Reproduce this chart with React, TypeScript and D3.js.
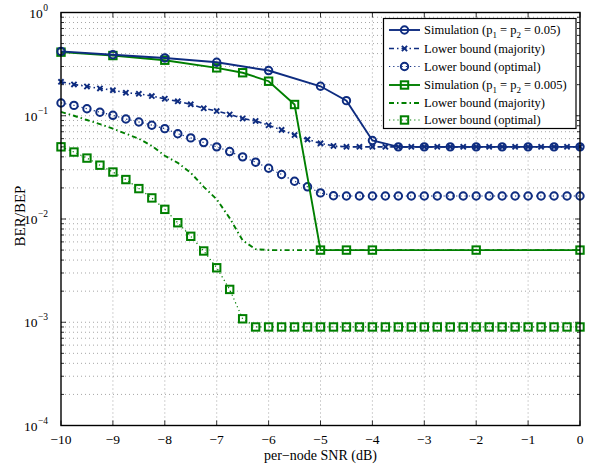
import React from "react";
import * as d3 from "d3";

// per-node SNR grids (dB)
const snrFine = [
  -10, -9.75, -9.5, -9.25, -9, -8.75, -8.5, -8.25, -8, -7.75, -7.5, -7.25, -7, -6.75, -6.5, -6.25,
  -6, -5.75, -5.5, -5.25, -5, -4.75, -4.5, -4.25, -4, -3.75, -3.5, -3.25, -3, -2.75, -2.5, -2.25,
  -2, -1.75, -1.5, -1.25, -1, -0.75, -0.5, -0.25, 0,
];
const snrSimA = [-10, -9, -8, -7, -6, -5, -4.5, -4, -3.5, -3, -2.5, -2, -1.5, -1, -0.5, 0];
const snrSimB = [-10, -9, -8, -7, -6.5, -6, -5.5, -5, -4.5, -4, -2, 0];

// p1 = p2 = 0.05
const simA = [0.42, 0.39, 0.363, 0.33, 0.274, 0.193, 0.14, 0.0576, 0.05, 0.05, 0.05, 0.05, 0.05, 0.05, 0.05, 0.05];
const majA = [
  0.213, 0.201, 0.192, 0.184, 0.177, 0.167, 0.163, 0.155, 0.146, 0.138, 0.129, 0.118, 0.111, 0.103, 0.094, 0.089,
  0.081, 0.073, 0.065, 0.059, 0.054, 0.051, 0.05, 0.05, 0.05, 0.05, 0.05, 0.05, 0.05, 0.05, 0.05, 0.05,
  0.05, 0.05, 0.05, 0.05, 0.05, 0.05, 0.05, 0.05, 0.05,
];
const optA = [
  0.133, 0.126, 0.117, 0.108, 0.101, 0.093, 0.087, 0.081, 0.075, 0.067, 0.061, 0.055, 0.05, 0.045, 0.04, 0.0355,
  0.031, 0.027, 0.0232, 0.0205, 0.0179, 0.0168, 0.0167, 0.0167, 0.0167, 0.0167, 0.0167, 0.0167, 0.0167, 0.0167, 0.0167, 0.0167,
  0.0167, 0.0167, 0.0167, 0.0167, 0.0167, 0.0167, 0.0167, 0.0167, 0.0167,
];

// p1 = p2 = 0.005
const simB = [0.413, 0.383, 0.345, 0.291, 0.261, 0.216, 0.1285, 0.005, 0.005, 0.005, 0.005, 0.005];
const majB = [
  0.109, 0.1, 0.091, 0.083, 0.075, 0.067, 0.06, 0.051, 0.041, 0.035, 0.028, 0.0205, 0.0155, 0.0102, 0.0062, 0.0051,
  0.005, 0.005, 0.005, 0.005, 0.005, 0.005, 0.005, 0.005, 0.005, 0.005, 0.005, 0.005, 0.005, 0.005, 0.005, 0.005,
  0.005, 0.005, 0.005, 0.005, 0.005, 0.005, 0.005, 0.005, 0.005,
];
const optB = [
  0.05, 0.0445, 0.0389, 0.0332, 0.0285, 0.0241, 0.0197, 0.016, 0.0124, 0.0092, 0.0068, 0.0049, 0.00337, 0.00208, 0.00108, 0.0009,
  0.0009, 0.0009, 0.0009, 0.0009, 0.0009, 0.0009, 0.0009, 0.0009, 0.0009, 0.0009, 0.0009, 0.0009, 0.0009, 0.0009, 0.0009, 0.0009,
  0.0009, 0.0009, 0.0009, 0.0009, 0.0009, 0.0009, 0.0009, 0.0009, 0.0009,
];

const xTicks = [-10, -9, -8, -7, -6, -5, -4, -3, -2, -1, 0];
const yExponents = [0, -1, -2, -3, -4];

const NAVY = "#0e2c80";
const GREEN = "#007f00";
const FONT = "'Liberation Serif', 'Times New Roman', serif";

const W = 593;
const H = 464;
const L = 61, R = 580, T = 12.5, B = 425.5;

const x = d3.scaleLinear().domain([-10, 0]).range([L, R]);
const y = d3.scaleLog().domain([1e-4, 1]).range([B, T]);

const line = d3
  .line<[number, number]>()
  .x((d) => x(d[0]))
  .y((d) => y(d[1]));

const pts = (xs: number[], ys: number[]) => xs.map((v, i) => [v, ys[i]] as [number, number]);

type Mk = "circle" | "x" | "square" | "none";

const Marker = ({ kind, cx, cy, color }: { kind: Mk; cx: number; cy: number; color: string }) => {
  if (kind === "circle") return <circle cx={cx} cy={cy} r={3.7} fill="none" stroke={color} strokeWidth={2} />;
  if (kind === "square")
    return <rect x={cx - 3.7} y={cy - 3.7} width={7.4} height={7.4} fill="none" stroke={color} strokeWidth={2} />;
  if (kind === "x")
    return (
      <path
        d={`M${cx - 2.6},${cy - 2.6}L${cx + 2.6},${cy + 2.6}M${cx - 2.6},${cy + 2.6}L${cx + 2.6},${cy - 2.6}`}
        stroke={color}
        strokeWidth={1.9}
      />
    );
  return null;
};

const series = [
  { data: pts(snrFine, majA), color: NAVY, dash: "5,3,1.5,3", width: 1.6, marker: "x" as Mk },
  { data: pts(snrFine, optA), color: NAVY, dash: "1.2,3", width: 1.2, marker: "circle" as Mk },
  { data: pts(snrFine, majB), color: GREEN, dash: "5,3,1.5,3", width: 1.9, marker: "none" as Mk },
  { data: pts(snrFine, optB), color: GREEN, dash: "1.2,3", width: 1.2, marker: "square" as Mk },
  { data: pts(snrSimB, simB), color: GREEN, dash: "", width: 1.9, marker: "square" as Mk },
  { data: pts(snrSimA, simA), color: NAVY, dash: "", width: 1.9, marker: "circle" as Mk },
];

const legendRows = [
  { color: NAVY, dash: "", width: 1.9, marker: "circle" as Mk, sim: "0.05" },
  { color: NAVY, dash: "5,3,1.5,3", width: 1.6, marker: "x" as Mk, text: "Lower bound (majority)" },
  { color: NAVY, dash: "1.2,3", width: 1.2, marker: "circle" as Mk, text: "Lower bound (optimal)" },
  { color: GREEN, dash: "", width: 1.9, marker: "square" as Mk, sim: "0.005" },
  { color: GREEN, dash: "5,3,1.5,3", width: 1.9, marker: "none" as Mk, text: "Lower bound (majority)" },
  { color: GREEN, dash: "1.2,3", width: 1.2, marker: "square" as Mk, text: "Lower bound (optimal)" },
];
const legendY = [30, 48.5, 66.5, 85, 103, 120];

export default function App() {
  const minorY: number[] = [];
  for (let e = -4; e < 0; e++) for (let k = 2; k <= 9; k++) minorY.push(k * Math.pow(10, e));

  return (
    <svg width={W} height={H} style={{ position: "absolute", left: 0, top: 0, background: "#fff" }} fontFamily={FONT}>
      <rect x={0} y={0} width={W} height={H} fill="#fff" />
      {/* grid */}
      <g stroke="#808080" strokeWidth={0.7} strokeDasharray="1,3">
        {xTicks.slice(1, -1).map((t) => (
          <line key={"gx" + t} x1={x(t)} x2={x(t)} y1={T} y2={B} />
        ))}
        {yExponents.slice(1, -1).map((e) => (
          <line key={"gy" + e} x1={L} x2={R} y1={y(Math.pow(10, e))} y2={y(Math.pow(10, e))} />
        ))}
        {minorY.map((v) => (
          <line key={"gm" + v} x1={L} x2={R} y1={y(v)} y2={y(v)} />
        ))}
      </g>
      {/* ticks */}
      <g stroke="#000" strokeWidth={0.8}>
        {xTicks.map((t) => (
          <g key={"tx" + t}>
            <line x1={x(t)} x2={x(t)} y1={B} y2={B - 5} />
            <line x1={x(t)} x2={x(t)} y1={T} y2={T + 5} />
          </g>
        ))}
        {yExponents.map((e) => (
          <g key={"ty" + e}>
            <line x1={L} x2={L + 5} y1={y(Math.pow(10, e))} y2={y(Math.pow(10, e))} />
            <line x1={R} x2={R - 5} y1={y(Math.pow(10, e))} y2={y(Math.pow(10, e))} />
          </g>
        ))}
        {minorY.map((v) => (
          <g key={"tm" + v}>
            <line x1={L} x2={L + 3} y1={y(v)} y2={y(v)} />
            <line x1={R} x2={R - 3} y1={y(v)} y2={y(v)} />
          </g>
        ))}
      </g>
      {/* curves */}
      {series.map((s, i) => (
        <g key={"s" + i}>
          <path d={line(s.data) || ""} fill="none" stroke={s.color} strokeWidth={s.width} strokeDasharray={s.dash || undefined} />
          {s.data.map((d, j) => (
            <Marker key={j} kind={s.marker} cx={x(d[0])} cy={y(d[1])} color={s.color} />
          ))}
        </g>
      ))}
      {/* axes box */}
      <rect x={L} y={T} width={R - L} height={B - T} fill="none" stroke="#000" strokeWidth={1.4} />
      {/* tick labels */}
      {xTicks.map((t) => (
        <text key={"lx" + t} x={x(t)} y={444} textAnchor="middle" fontSize={13.5}>
          {t < 0 ? "\u2212" + Math.abs(t) : String(t)}
        </text>
      ))}
      {yExponents.map((e) => (
        <text key={"ly" + e} x={48} y={y(Math.pow(10, e)) + 5} textAnchor="end" fontSize={13.5}>
          10
          <tspan dx={0.5} dy={-7} fontSize={9.5} textAnchor="start">
            {e < 0 ? "\u2212" + Math.abs(e) : String(e)}
          </tspan>
        </text>
      ))}
      <text x={x(-5)} y={460} textAnchor="middle" fontSize={14}>
        per{"\u2212"}node SNR (dB)
      </text>
      <text transform={`translate(25,${(T + B) / 2 - 3}) rotate(-90)`} textAnchor="middle" fontSize={15}>
        BER/BEP
      </text>
      {/* legend */}
      <rect x={383.5} y={18.5} width={192.5} height={110} fill="#fff" stroke="#000" strokeWidth={1.2} />
      {legendRows.map((r, i) => {
        const ly = legendY[i];
        return (
          <g key={"lg" + i}>
            <line x1={389} x2={420} y1={ly} y2={ly} stroke={r.color} strokeWidth={r.width} strokeDasharray={r.dash || undefined} />
            <Marker kind={r.marker} cx={404.5} cy={ly} color={r.color} />
            <text x={424} y={ly + 4} fontSize={12.5}>
              {r.sim ? (
                <>
                  Simulation (p
                  <tspan dy={4} fontSize={9}>1</tspan>
                  <tspan dy={-4}> = p</tspan>
                  <tspan dy={4} fontSize={9}>2</tspan>
                  <tspan dy={-4}>{" = " + r.sim + ")"}</tspan>
                </>
              ) : (
                r.text
              )}
            </text>
          </g>
        );
      })}
    </svg>
  );
}
